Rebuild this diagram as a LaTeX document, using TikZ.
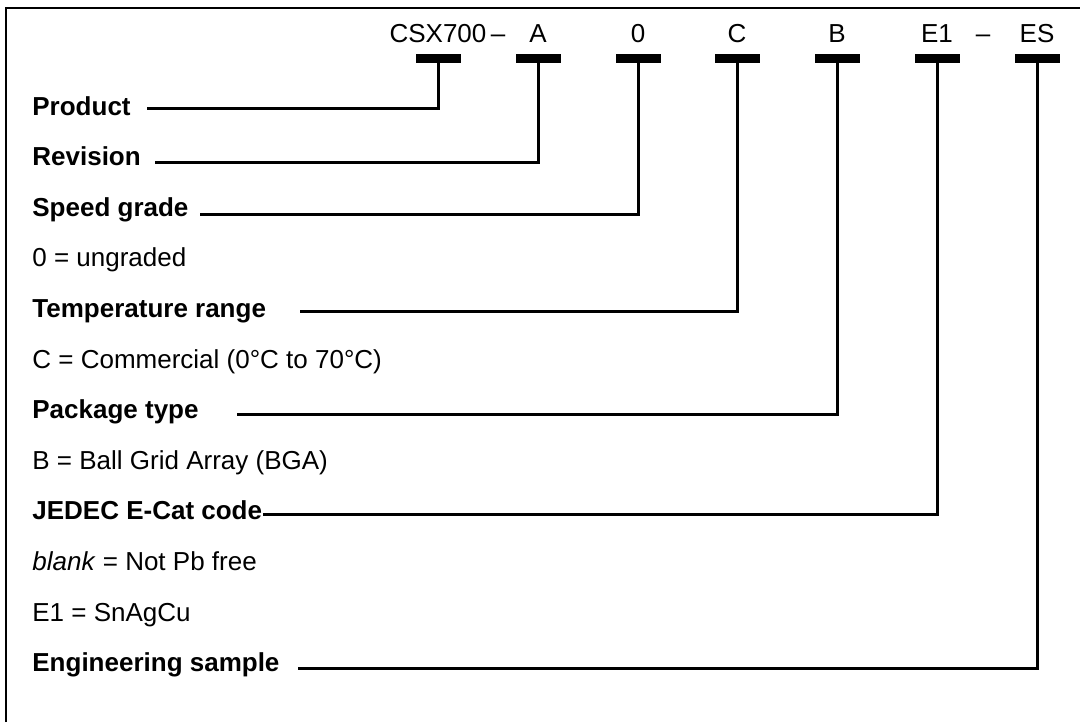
\documentclass[tikz,border=0pt]{standalone}
\usepackage{fontspec}
\setmainfont{Liberation Sans}
\usetikzlibrary{positioning}

\begin{document}
\begin{tikzpicture}[
  x=0.5pt, y=-0.5pt,
  font=\fontsize{13}{15}\selectfont,
  code/.style={inner sep=0pt, anchor=base},
  bar/.style={fill=black, minimum width=22.5pt, minimum height=4.5pt, inner sep=0pt},
  field/.style={inner sep=0pt, anchor=base west, font=\fontsize{13}{15}\selectfont\bfseries},
  desc/.style={inner sep=0pt, anchor=base west},
  lead/.style={line width=1.5pt},
  frame/.style={line width=1pt}
]
\useasboundingbox (0,0) rectangle (1080,722);

% ---------- Frame ----------
\draw[frame] (6,722) -- (6,8.5) -- (1080,8.5);

% ---------- Part number: bars ----------
\node[bar] (bprod) at (438,58.5) {};
\node[bar] (brev) at (538,58.5) {};
\node[bar] (bspd) at (638,58.5) {};
\node[bar] (btemp) at (737,58.5) {};
\node[bar] (bpkg) at (837,58.5) {};
\node[bar] (bjedec) at (937,58.5) {};
\node[bar] (beng) at (1037,58.5) {};

% ---------- Part number: characters ----------
\node[code] (cprod) at ([yshift=5.5pt]bprod.north) {CSX700};
\node[code] (dash1) at (498,43) {\textendash};
\node[code] (crev) at ([yshift=5.5pt]brev.north) {A};
\node[code] (cspd) at ([yshift=5.5pt]bspd.north) {0};
\node[code] (ctemp) at ([yshift=5.5pt]btemp.north) {C};
\node[code] (cpkg) at ([yshift=5.5pt]bpkg.north) {B};
\node[code] (cjedec) at ([yshift=5.5pt]bjedec.north) {E1};
\node[code] (dash2) at (983,43) {\textendash};
\node[code] (ceng) at ([yshift=5.5pt]beng.north) {ES};

% ---------- Fields and values ----------
\node[field] (prod) at (32,115) {Product};
\node[field] (rev) at (32,165.6) {Revision};
\node[field] (spd) at (32,216.2) {Speed grade};
\node[desc] (spd0) at (32,266.8) {0 = ungraded};
\node[field] (temp) at (32,317.4) {Temperature range};
\node[desc] (tempc) at (32,368) {C = Commercial (0°C to 70°C)};
\node[field] (pkg) at (32,418.6) {Package type};
\node[desc] (pkgb) at (32,469.2) {B = Ball Grid Array (BGA)};
\node[field] (jedec) at (32,519.8) {JEDEC E-Cat code};
\node[desc] (jedecb) at (32,570.4) {\textit{blank} = Not Pb free};
\node[desc] (jedece) at (32,621) {E1 = SnAgCu};
\node[field] (eng) at (32,671.6) {Engineering sample};

% ---------- Leader start points ----------
\coordinate (lprod) at (147,109);
\coordinate (lrev) at (155,162);
\coordinate (lspd) at (200,214);
\coordinate (ltemp) at (300,311);
\coordinate (lpkg) at (237,414);
\coordinate (ljedec) at (263,514);
\coordinate (leng) at (298,668);

% ---------- Leaders ----------
\draw[lead] (lprod) -| (bprod.south);
\draw[lead] (lrev) -| (brev.south);
\draw[lead] (lspd) -| (bspd.south);
\draw[lead] (ltemp) -| (btemp.south);
\draw[lead] (lpkg) -| (bpkg.south);
\draw[lead] (ljedec) -| (bjedec.south);
\draw[lead] (leng) -| (beng.south);

\end{tikzpicture}
\end{document}
